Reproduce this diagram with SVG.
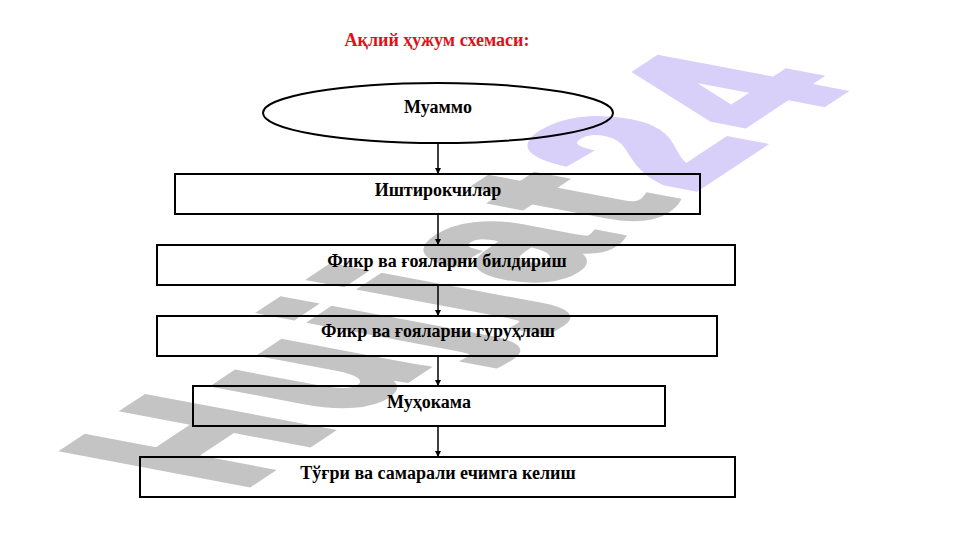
<svg xmlns="http://www.w3.org/2000/svg" width="961" height="540" viewBox="0 0 961 540">
  <defs>
    <style>
      .wm { font-family: "Liberation Sans", "DejaVu Sans", sans-serif; font-weight: bold; font-size: 100px; stroke-width: 5; stroke-linejoin: miter; letter-spacing: 9px; }
      .node { fill: none; stroke: #000; stroke-width: 2; }
      .lbl { font-family: "Liberation Serif", "Times New Roman", serif; font-weight: bold; font-size: 18px; fill: #000; text-anchor: middle; }
      .title { font-family: "Liberation Serif", "Times New Roman", serif; font-weight: bold; font-size: 18px; fill: #e0101a; text-anchor: middle; }
      .conn { stroke: #000; stroke-width: 1.5; fill: none; marker-end: url(#arr); }
    </style>
    <marker id="arr" viewBox="0 0 10 10" refX="10" refY="5" markerWidth="4" markerHeight="4" orient="auto" markerUnits="strokeWidth">
      <path d="M0,0 L10,5 L0,10 z" fill="#000"/>
    </marker>
  </defs>
  <rect width="961" height="540" fill="#fff"/>

  <g id="watermark">
    <text class="wm" transform="matrix(1.36,-0.9,2.6,0.49,238,490)"><tspan fill="#c4c4c4" stroke="#c4c4c4">Hujjat</tspan><tspan fill="#d9d0fa" stroke="#d9d0fa">24</tspan></text>
  </g>

  <text class="title" x="437" y="46">Ақлий ҳужум схемаси:</text>

  <g id="connectors">
    <line class="conn" x1="438" y1="144" x2="438" y2="174"/>
    <line class="conn" x1="438" y1="215" x2="438" y2="245"/>
    <line class="conn" x1="438" y1="286" x2="438" y2="316"/>
    <line class="conn" x1="438" y1="357" x2="438" y2="386"/>
    <line class="conn" x1="438" y1="427" x2="438" y2="457"/>
  </g>

  <g id="n-muammo">
    <ellipse class="node" cx="438" cy="113" rx="175" ry="30"/>
    <text class="lbl" x="438" y="113">Муаммо</text>
  </g>
  <g id="n-ishtirok">
    <rect class="node" x="175" y="174" width="525" height="40"/>
    <text class="lbl" x="438" y="196">Иштирокчилар</text>
  </g>
  <g id="n-bildirish">
    <rect class="node" x="157" y="245" width="578" height="40"/>
    <text class="lbl" x="447" y="267">Фикр ва ғояларни билдириш</text>
  </g>
  <g id="n-guruhlash">
    <rect class="node" x="157" y="316" width="560" height="40"/>
    <text class="lbl" x="438" y="337">Фикр ва ғояларни гуруҳлаш</text>
  </g>
  <g id="n-muhokama">
    <rect class="node" x="193" y="386" width="472" height="40"/>
    <text class="lbl" x="429" y="408">Муҳокама</text>
  </g>
  <g id="n-yechim">
    <rect class="node" x="140" y="457" width="595" height="40"/>
    <text class="lbl" x="438" y="479">Тўғри ва самарали ечимга келиш</text>
  </g>
</svg>
